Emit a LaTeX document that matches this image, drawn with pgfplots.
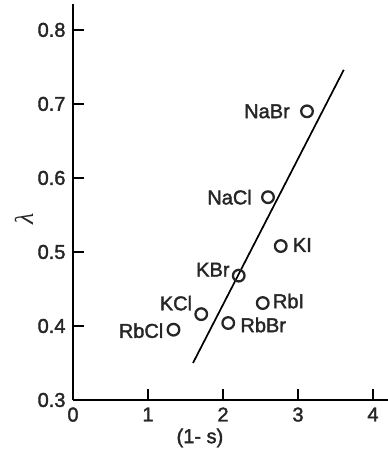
\documentclass[border=0pt]{standalone}
\usepackage{fontspec}
\setmainfont{Liberation Sans}[FakeBold=1.8]
\newfontfamily\lamfont{Liberation Serif}
\usepackage{pgfplots}
\pgfplotsset{compat=1.18}
\definecolor{txt}{HTML}{262626}
\begin{document}
\begin{tikzpicture}[x=1pt,y=1pt]
\useasboundingbox (-73pt,-56pt) rectangle (315pt,400pt);
\begin{axis}[
  scale only axis,
  width=315pt, height=396pt,
  anchor=origin, at={(0pt,0pt)},
  xmin=0, xmax=4.2, ymin=0.3, ymax=0.835,
  axis x line*=bottom, axis y line*=left,
  axis line style={line width=2.2pt, -},
  xtick={0,1,2,3,4}, ytick={0.3,0.4,0.5,0.6,0.7,0.8},
  xticklabels={0,1,2,3,4},
  yticklabels={0.3,0.4,0.5,0.6,0.7,0.8},
  tick align=inside, major tick length=11pt,
  tick style={line width=1.8pt, black},
  tick label style={font=\fontsize{20}{22}\selectfont, text=txt},
  xticklabel style={yshift=-4pt},
  yticklabel style={xshift=-4pt},
  xlabel={(1- s)}, ylabel={\lamfont\itshape λ},
  xlabel style={font=\fontsize{20}{22}\selectfont, text=txt, at={(axis description cs:0.403,0)}, anchor=center, yshift=-38pt},
  ylabel style={font=\fontsize{26}{28}\selectfont, text=txt, at={(axis description cs:-0.156,0.457)}, anchor=center},
  clip=false,
]
\addplot[black, line width=1.7pt] coordinates {(1.6,0.35) (3.61,0.746)};
\addplot[only marks, mark=o, mark size=5.8pt, mark options={line width=2.3pt, fill=white, draw=txt}] coordinates {
 (3.12,0.690) (2.60,0.574) (2.77,0.508) (2.21,0.468) (2.53,0.431) (1.71,0.416) (2.07,0.404) (1.34,0.395)};
\begin{scope}[every node/.style={font=\fontsize{20}{22}\selectfont, text=txt, inner sep=0pt}]
\node[anchor=east] at (axis cs:3.12,0.690) [xshift=-17pt] {NaBr};
\node[anchor=east] at (axis cs:2.60,0.574) [xshift=-16pt] {NaCl};
\node[anchor=west] at (axis cs:2.77,0.508) [xshift=12pt,yshift=1pt] {KI};
\node[anchor=east] at (axis cs:2.21,0.468) [xshift=-9pt,yshift=6pt] {KBr};
\node[anchor=west] at (axis cs:2.53,0.431) [xshift=10pt,yshift=2pt] {RbI};
\node[anchor=east] at (axis cs:1.71,0.416) [xshift=-9pt,yshift=11pt] {KCl};
\node[anchor=west] at (axis cs:2.07,0.404) [xshift=12pt,yshift=-2pt] {RbBr};
\node[anchor=east] at (axis cs:1.34,0.395) [xshift=-10pt,yshift=-1pt] {RbCl};
\end{scope}
\end{axis}
\end{tikzpicture}
\end{document}
